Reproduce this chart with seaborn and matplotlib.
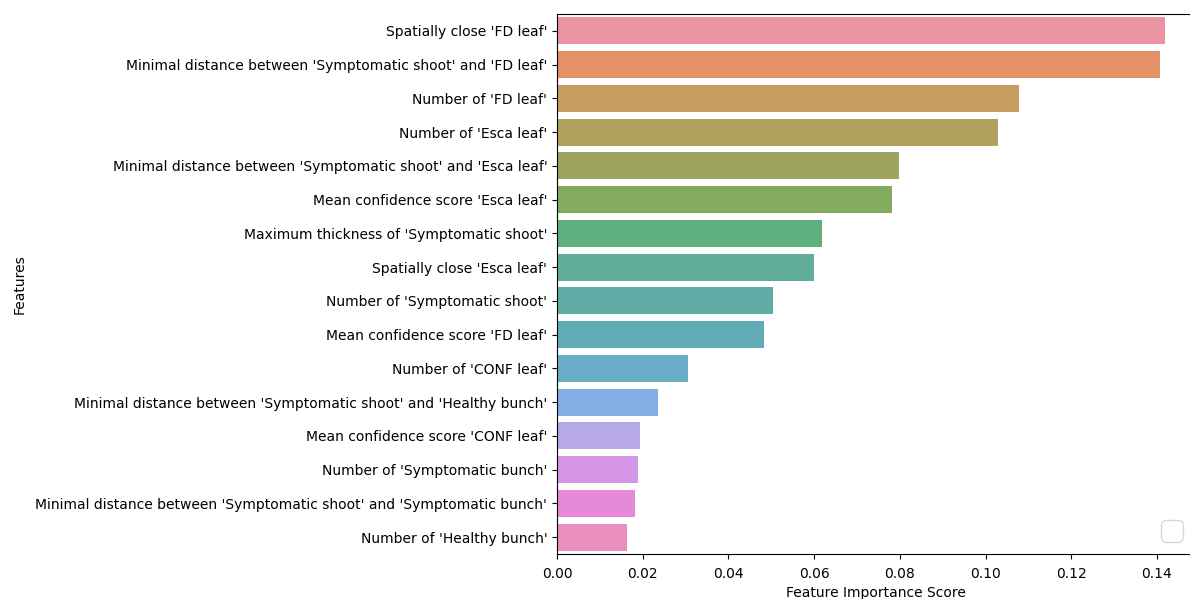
import pandas as pd
import matplotlib
matplotlib.use("Agg")
import matplotlib.pyplot as plt
import seaborn as sns

# Feature importances (sorted descending)
features = [
    "Spatially close 'FD leaf'",
    "Minimal distance between 'Symptomatic shoot' and 'FD leaf'",
    "Number of 'FD leaf'",
    "Number of 'Esca leaf'",
    "Minimal distance between 'Symptomatic shoot' and 'Esca leaf'",
    "Mean confidence score 'Esca leaf'",
    "Maximum thickness of 'Symptomatic shoot'",
    "Spatially close 'Esca leaf'",
    "Number of 'Symptomatic shoot'",
    "Mean confidence score 'FD leaf'",
    "Number of 'CONF leaf'",
    "Minimal distance between 'Symptomatic shoot' and 'Healthy bunch'",
    "Mean confidence score 'CONF leaf'",
    "Number of 'Symptomatic bunch'",
    "Minimal distance between 'Symptomatic shoot' and 'Symptomatic bunch'",
    "Number of 'Healthy bunch'",
]
scores = [0.1419, 0.1407, 0.1078, 0.1029, 0.0798, 0.0782, 0.0618, 0.0600,
          0.0505, 0.0483, 0.0305, 0.0235, 0.0194, 0.0189, 0.0182, 0.0163]


def main():
    df = pd.DataFrame({"feature": features, "score": scores})

    fig = plt.figure(figsize=(11.9, 5.99), dpi=100)
    ax = fig.add_axes([557 / 1190, 1 - 554 / 599, 638.5 / 1190, 540 / 599])

    # husl colours, slightly transparent so they look lighter
    sns.barplot(data=df, x="score", y="feature", hue="feature",
                palette="husl", legend=False, alpha=0.85, ax=ax)

    ax.set_xlabel("Feature Importance Score")
    ax.set_ylabel("Features", labelpad=6)
    ax.tick_params(axis="x", pad=5.5)
    # empty legend box, as in the original
    ax.legend(loc="lower right", fontsize=20, borderaxespad=0,
              bbox_to_anchor=(1183 / 1190, 1 - 542 / 599),
              bbox_transform=fig.transFigure)

    fig.savefig("out.png", dpi=100)
    plt.close(fig)


if __name__ == "__main__":
    main()
